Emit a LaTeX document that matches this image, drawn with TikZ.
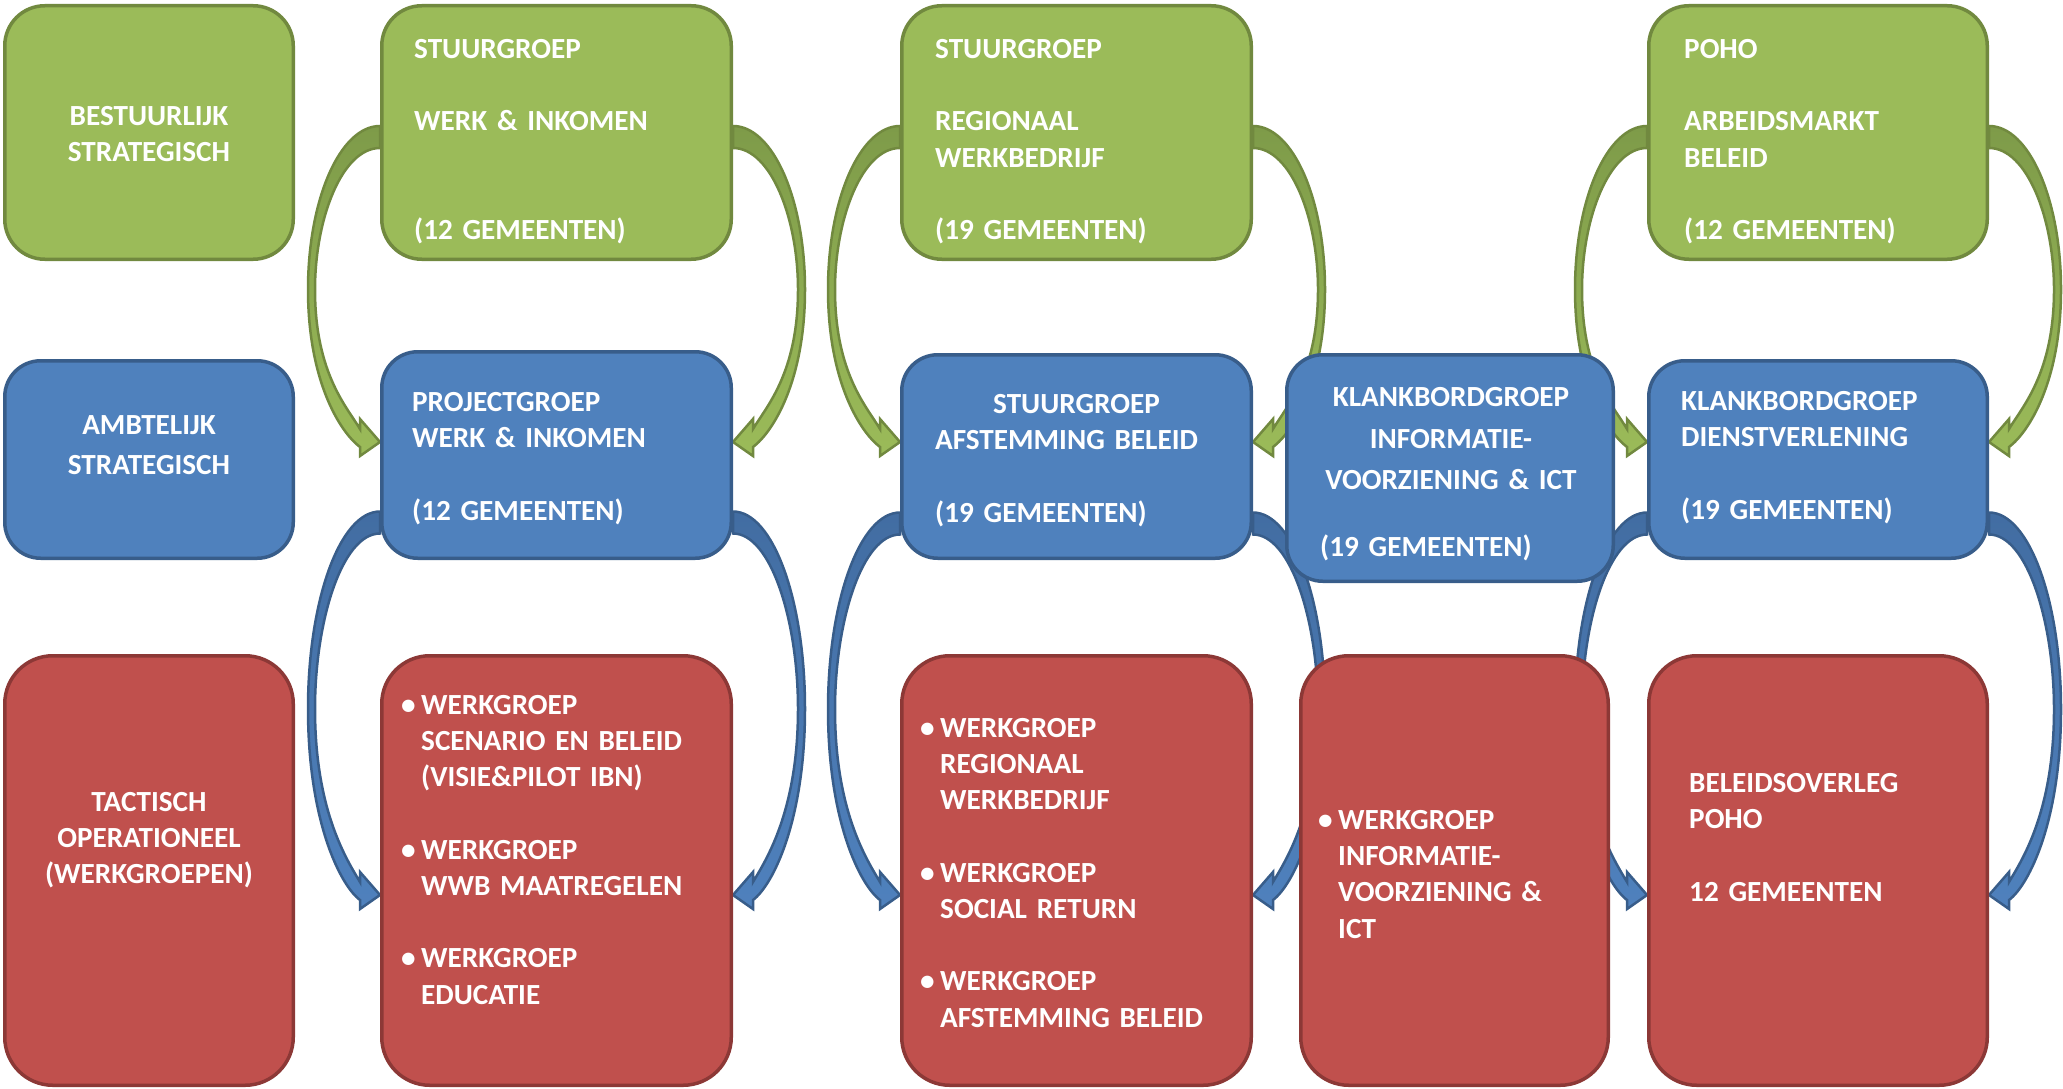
\documentclass[tikz,border=0pt]{standalone}
\usepackage{fontspec}
\setmainfont{Carlito}
\usetikzlibrary{calc,backgrounds}

\definecolor{groen}{HTML}{9BBB59}
\definecolor{groenrand}{HTML}{71893F}
\definecolor{groendonker}{HTML}{7E9B49}
\definecolor{blauw}{HTML}{4F81BD}
\definecolor{blauwrand}{HTML}{385D8A}
\definecolor{blauwdonker}{HTML}{426DA2}
\definecolor{rood}{HTML}{C0504D}
\definecolor{roodrand}{HTML}{8C3836}

\newcommand{\punt}{\leavevmode\llap{\textbullet\hspace{5.5pt}}}
% van, naar, kant (-1 links, 1 rechts), kleur
\newcommand{\boogpijl}[4]{%
  \draw[pijl=#4] let \p1=(#1), \p2=(#2), \n1={(\y1+\y2)/2} in
    ({\x1}, {\y1+11}) .. controls ({\x1+(#3)*40}, {\y1+11}) and ({\x1+(#3)*72}, {\n1+0.55*(\y1+11-\n1)}) .. ({\x1+(#3)*72}, \n1)
    .. controls ({\x1+(#3)*72}, {\n1-0.6*(\n1-\y2)}) and ({\x2+(#3)*40}, {\y2+10}) .. ({\x2+(#3)*20}, {\y2-5})
    -- ({\x2+(#3)*20}, {\y2-14}) -- (\x2, \y2) -- ({\x2+(#3)*20}, {\y2+23}) -- ({\x2+(#3)*20}, {\y2+13})
    .. controls ({\x2+(#3)*33}, {\y2+35}) and ({\x1+(#3)*65}, {\n1-0.55*(\n1-\y2)}) .. ({\x1+(#3)*65}, \n1)
    .. controls ({\x1+(#3)*65}, {\n1+0.5*(\y1-11-\n1)}) and ({\x1+(#3)*38}, {\y1-11}) .. ({\x1}, {\y1-11}) -- cycle;
}

\begin{document}
\begin{tikzpicture}[
   x=1pt, y=1pt,
   vak/.style={draw, line width=3.5pt, inner sep=0pt, minimum width=349.5pt},
   groenvak/.style={vak, draw=groenrand, fill=groen, rounded corners=40pt, minimum height=253.5pt},
   blauwvak/.style={vak, draw=blauwrand, fill=blauw, rounded corners=36pt},
   roodvak/.style={vak, draw=roodrand, fill=rood, rounded corners=48pt, minimum height=429.5pt},
   pijl/.style={draw=#1rand, line width=2.5pt, top color=#1donker, bottom color=#1},
   tekst/.style={text width=320pt, align=left, anchor=base west, inner sep=0pt},
   midden/.style={text width=290pt, align=center, anchor=base, inner sep=0pt}
]
\tikzset{every node/.append style={font=\fontsize{29.2}{36.2}\selectfont\bfseries, text=white}}
\useasboundingbox (0,0) rectangle (2063,-1089);

% niveaus
\node[groenvak, minimum width=288.5pt] (l1) at (149,-132.5) {};
\node[blauwvak, minimum width=288.5pt, minimum height=197.5pt] (l2) at (149,-459.5) {};
\node[roodvak, minimum width=288.5pt] (l3) at (149,-870.5) {};
\node[midden] (l1-t) at (149,-125.5) {BESTUURLIJK\\STRATEGISCH};
\node[midden] (l2-t) at (149,-434.5) {AMBTELIJK\\[3.8pt]STRATEGISCH};
\node[midden] (l3-t) at (149,-811.5) {TACTISCH\\OPERATIONEEL\\(WERKGROEPEN)};

% werk & inkomen
\node[groenvak] (g1) at (556.5,-132.5) {};
\node[blauwvak, minimum height=206.5pt] (b1) at (556.5,-455) {};
\node[roodvak] (r1) at (556.5,-870.5) {};
\node[tekst] (g1-t) at (414,-58.5) {STUURGROEP\\~\\WERK \& INKOMEN\\~\\~\\(12 GEMEENTEN)};
\node[tekst] (b1-t) at (412,-411.5) {PROJECTGROEP\\WERK \& INKOMEN\\~\\(12 GEMEENTEN)};
\node[tekst] (r1-t) at (421,-714.5) {\punt WERKGROEP\\SCENARIO EN BELEID\\(VISIE\&PILOT IBN)\\~\\\punt WERKGROEP\\WWB MAATREGELEN\\~\\\punt WERKGROEP\\EDUCATIE};

% regionaal werkbedrijf
\node[groenvak] (g2) at (1076.5,-132.5) {};
\node[blauwvak, minimum height=203.5pt] (b2) at (1076.5,-456.5) {};
\node[roodvak] (r2) at (1076.5,-870.5) {};
\node[tekst] (g2-t) at (935,-58.5) {STUURGROEP\\~\\REGIONAAL\\WERKBEDRIJF\\~\\(19 GEMEENTEN)};
\node[tekst] (b2-t) at (935,-413.5) {\hspace*{58pt}STUURGROEP\\AFSTEMMING BELEID\\~\\(19 GEMEENTEN)};
\node[tekst] (r2-t) at (940,-737.5) {\punt WERKGROEP\\REGIONAAL\\WERKBEDRIJF\\~\\\punt WERKGROEP\\SOCIAL RETURN\\~\\\punt WERKGROEP\\AFSTEMMING BELEID};

% informatievoorziening
\node[blauwvak, minimum width=326.5pt, minimum height=226.5pt] (b3) at (1450,-468) {};
\node[roodvak, minimum width=307.5pt] (r3) at (1454.5,-870.5) {};
\node[midden, font=\fontsize{29.2}{41.5}\selectfont\bfseries] (b3-t) at (1451,-406.5) {KLANKBORDGROEP\\INFORMATIE-\\VOORZIENING \& ICT};
\node[tekst] (b3-n) at (1320,-556.5) {(19 GEMEENTEN)};
\node[tekst] (r3-t) at (1338,-829.5) {\punt WERKGROEP\\INFORMATIE-\\VOORZIENING \&\\ICT};

% arbeidsmarktbeleid
\node[groenvak, minimum width=338.5pt] (g3) at (1818,-132.5) {};
\node[blauwvak, minimum width=338.5pt, minimum height=197.5pt] (b4) at (1818,-459.5) {};
\node[roodvak, minimum width=338.5pt] (r4) at (1818,-870.5) {};
\node[tekst] (g3-t) at (1684,-58.5) {POHO\\~\\ARBEIDSMARKT\\BELEID\\~\\(12 GEMEENTEN)};
\node[tekst] (b4-t) at (1681,-410.5) {KLANKBORDGROEP\\DIENSTVERLENING\\~\\(19 GEMEENTEN)};
\node[tekst] (r4-t) at (1689,-792.5) {BELEIDSOVERLEG\\POHO\\~\\12 GEMEENTEN};

\begin{pgfonlayer}{background}
\foreach \van/\naar/\ys/\yt/\kl in {g1/b1/-4.5pt/13pt/groen, g2/b2/-4.5pt/14.5pt/groen, g3/b4/-4.5pt/17.5pt/groen,
      b1/r1/-67.5pt/-24.5pt/blauw, b2/r2/-67pt/-24.5pt/blauw, b4/r4/-64pt/-24.5pt/blauw} {
   \boogpijl{[yshift=\ys]\van.west}{[yshift=\yt]\naar.west}{-1}{\kl}
   \boogpijl{[yshift=\ys]\van.east}{[yshift=\yt]\naar.east}{1}{\kl}
}
\end{pgfonlayer}
\end{tikzpicture}
\end{document}
